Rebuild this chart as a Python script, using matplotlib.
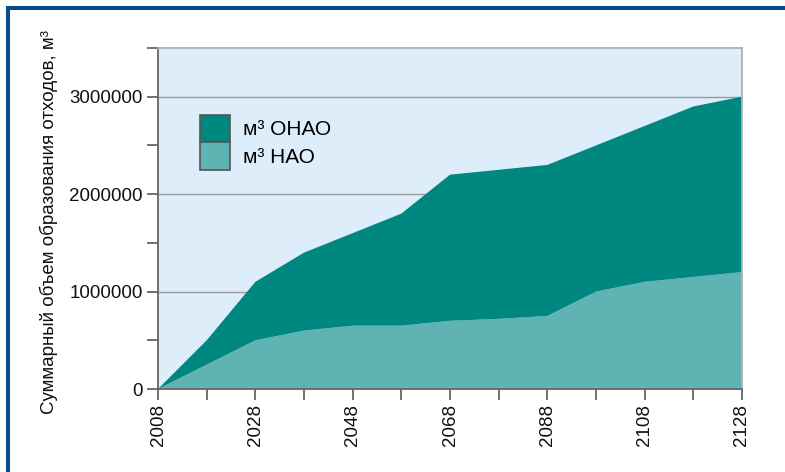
import matplotlib.pyplot as plt
from matplotlib.patches import Patch, Rectangle
from matplotlib.ticker import MultipleLocator

plt.rcParams['font.family'] = ['Liberation Sans', 'DejaVu Sans']

# годы и накопленные объемы, м3
years = [2008, 2018, 2028, 2038, 2048, 2058, 2068, 2078, 2088, 2098, 2108, 2118, 2128]
total = [0, 500000, 1100000, 1400000, 1600000, 1800000, 2200000, 2250000,
         2300000, 2500000, 2700000, 2900000, 3000000]
nao = [0, 250000, 500000, 600000, 650000, 650000, 700000, 720000,
       750000, 1000000, 1100000, 1150000, 1200000]
onao = [t - n for t, n in zip(total, nao)]

labels = ["м³ ОНАО", "м³ НАО"]
x_ticks = list(range(2008, 2129, 20))
x_minor = list(range(2018, 2129, 20))
y_ticks = [0, 1000000, 2000000, 3000000]

DARK = "#00877F"
LIGHT = "#5FB3B2"
BG = "#DDEDFA"

fig = plt.figure(figsize=(7.85, 4.72), dpi=100)
ax = fig.add_axes([0.2013, 0.1758, 0.7439, 0.7225])
ax.set_facecolor(BG)

ax.stackplot(years, nao, onao, colors=[LIGHT, DARK], linewidth=0, zorder=2)

ax.set_xlim(2008, 2128)
ax.set_ylim(0, 3500000)
ax.set_xticks(x_ticks)
ax.set_xticks(x_minor, minor=True)
ax.set_yticks(y_ticks)
ax.set_yticklabels([str(v) for v in y_ticks])
ax.yaxis.set_minor_locator(MultipleLocator(500000))
ax.tick_params(axis='x', labelrotation=90)
ax.tick_params(which='both', length=8, width=1.3, color="#666666",
               labelsize=13.5, labelcolor="#111111", pad=3)

ax.grid(axis='y', which='major', color="#9a9a9a", linewidth=1.0, zorder=1)
ax.set_axisbelow(True)

for side in ("left", "bottom"):
    ax.spines[side].set_color("#666666")
    ax.spines[side].set_linewidth(1.3)
for side in ("top", "right"):
    ax.spines[side].set_color("#b0b0b0")
    ax.spines[side].set_linewidth(1.3)

ax.set_ylabel("Суммарный объем образования отходов, м³", fontsize=13.5,
              color="#111111")
ax.yaxis.set_label_coords(-0.172, 0.49)

handles = [Patch(facecolor=DARK, edgecolor="#555555", linewidth=1.2),
           Patch(facecolor=LIGHT, edgecolor="#555555", linewidth=1.2)]
leg = ax.legend(handles, labels, loc="upper left", bbox_to_anchor=(0.072, 0.805),
                frameon=False, fontsize=15, handlelength=1.45, handleheight=1.69,
                labelspacing=0.0, handletextpad=0.6, borderaxespad=0,
                borderpad=0)

# синяя рамка
fig.patches.append(Rectangle((8 / 785, -0.1), 1.2, 1.1 - 8 / 472,
                             transform=fig.transFigure, fill=False,
                             edgecolor="#0B4A8B", linewidth=2.9))

fig.savefig("out.png", dpi=100)
